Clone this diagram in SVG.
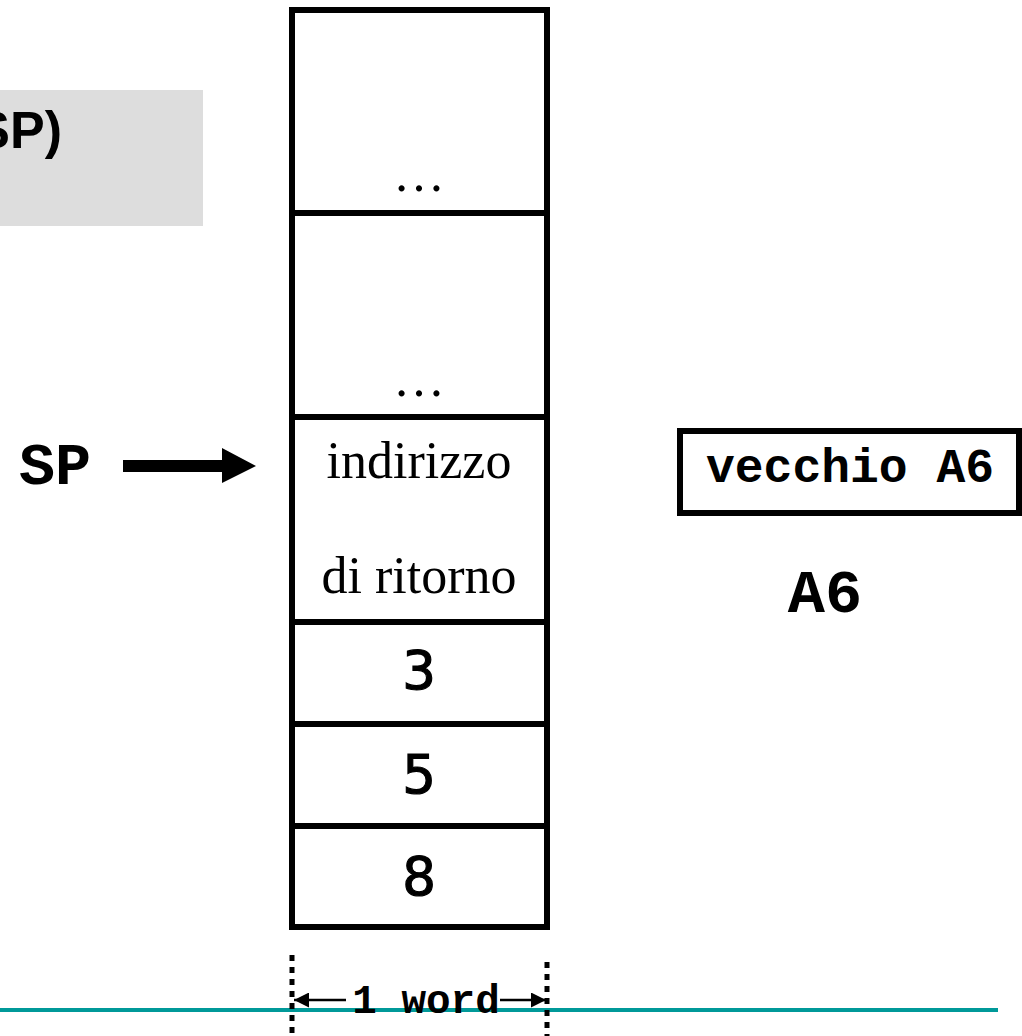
<svg xmlns="http://www.w3.org/2000/svg" width="1022" height="1036" viewBox="0 0 1022 1036">
<style>
.cell{fill:#fff;stroke:#000;stroke-width:6}
.div{stroke:#000;stroke-width:6}
.tms{font-family:"Liberation Serif","Times New Roman",serif;font-size:52px;fill:#000;text-anchor:middle}
.num{font-family:"DejaVu Sans",Verdana,sans-serif;font-size:53px;fill:#000;stroke:#000;stroke-width:1.2px;text-anchor:middle}
.mono{font-family:"Liberation Mono","Courier New",monospace;font-weight:bold;fill:#000}
.dot{stroke:#000;stroke-width:5;stroke-dasharray:6 6;fill:none}
</style>
<defs>
<marker id="ah" viewBox="0 0 10 10" refX="10" refY="5" markerWidth="6" markerHeight="6" markerUnits="strokeWidth" orient="auto">
<path d="M0,0 L10,5 L0,10 z" fill="#000"/>
</marker>
</defs>
<rect x="0" y="90" width="203" height="136" fill="#dddddd"/>
<text x="62" y="148" font-family="'Liberation Sans',Arial,sans-serif" font-weight="bold" font-size="52" text-anchor="end">SP)</text>
<g id="stack">
<rect class="cell" x="292" y="10" width="255" height="917"/>
<line class="div" x1="292" y1="213" x2="547" y2="213"/>
<line class="div" x1="292" y1="417" x2="547" y2="417"/>
<line class="div" x1="292" y1="622" x2="547" y2="622"/>
<line class="div" x1="292" y1="724" x2="547" y2="724"/>
<line class="div" x1="292" y1="826" x2="547" y2="826"/>
<text class="tms" x="419" y="191">…</text>
<text class="tms" x="419" y="396">…</text>
<text class="tms" x="419" y="478">indirizzo</text>
<text class="tms" x="419" y="593">di ritorno</text>
<text class="num" x="419" y="689">3</text>
<text class="num" x="419" y="793">5</text>
<text class="num" x="419" y="895">8</text>
</g>
<g id="sp">
<text class="mono" x="55" y="484" font-size="60" text-anchor="middle">SP</text>
</g>
<g id="a6box">
<rect x="680" y="431" width="339" height="82" fill="#fff" stroke="#000" stroke-width="6"/>
<text class="mono" x="850" y="482" font-size="48" text-anchor="middle">vecchio A6</text>
</g>
<g id="a6label">
<text class="mono" x="825" y="612" font-size="62" text-anchor="middle">A6</text>
</g>
<line x1="0" y1="1010" x2="998" y2="1010" stroke="#009999" stroke-width="4"/>
<g id="connectors">
<polygon points="123,460 222,460 222,448 256,466 222,483 222,472 123,472" fill="#000"/>
<line class="dot" x1="292" y1="955" x2="292" y2="1040"/>
<line class="dot" x1="547" y1="962" x2="547" y2="1040"/>
<line x1="346" y1="1000" x2="294" y2="1000" stroke="#000" stroke-width="2.5" marker-end="url(#ah)"/>
<line x1="500" y1="1000" x2="546" y2="1000" stroke="#000" stroke-width="2.5" marker-end="url(#ah)"/>
</g>
<text class="mono" x="426" y="1013" font-size="41" text-anchor="middle">1 word</text>
</svg>
